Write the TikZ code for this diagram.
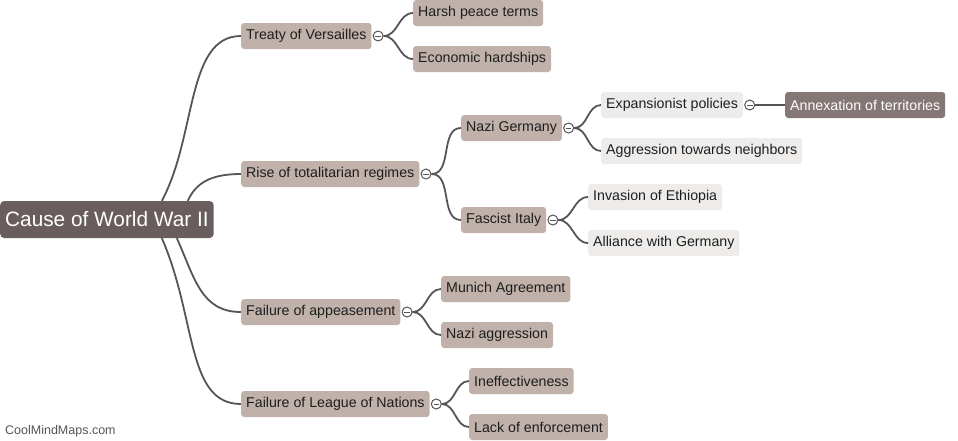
\documentclass[tikz,border=0pt]{standalone}
\usepackage{fontspec}
\setmainfont{Liberation Sans}
\usetikzlibrary{positioning, backgrounds}
\definecolor{croot}{HTML}{6A5D5D}
\definecolor{ctopic}{HTML}{C0B1AB}
\definecolor{cleaf}{HTML}{EEECEA}
\definecolor{cdark}{HTML}{857775}
\definecolor{clink}{HTML}{555555}
\definecolor{ctext}{HTML}{1E1E1E}
\tikzset{
  every picture/.style={x=1pt, y=-1pt},
  box/.style={fill=#1, rounded corners=3pt, anchor=west, inner xsep=5pt, inner ysep=0pt, minimum height=26pt, text=ctext, font=\fontsize{14.2}{16}\selectfont},
  box/.default=ctopic,
  rootbox/.style={box=croot, rounded corners=4pt, minimum height=37pt, text=white, font=\fontsize{20.8}{24}\selectfont},
  link/.style={draw=clink, line width=1.8pt},
  toggle/.style={circle, draw=clink, fill=white, line width=1pt, inner sep=0pt, minimum size=10pt,
    path picture={\draw[clink, line width=1pt] ([xshift=-2.8pt]path picture bounding box.center) -- ([xshift=2.8pt]path picture bounding box.center);}},
}

\begin{document}
\begin{tikzpicture}
  \useasboundingbox (0,0) rectangle (958,440);
  % central topic
  \node[rootbox] (root) at (0,219.5) {Cause of World War II};
  % main branches
  \node[box] (treaty) at (241,36) {Treaty of Versailles};
  \node[box] (harsh) at (413,13) {Harsh peace terms};
  \node[box] (econ) at (413,59) {Economic hardships};
  \node[box] (rise) at (241,174) {Rise of totalitarian regimes};
  \node[box] (nazi) at (461,128) {Nazi Germany};
  \node[box=cleaf] (expan) at (601,105) {Expansionist policies};
  \node[box=cdark, text=white] (annex) at (785,105) {Annexation of territories};
  \node[box=cleaf] (aggr) at (601,151) {Aggression towards neighbors};
  \node[box] (italy) at (461,220) {Fascist Italy};
  \node[box=cleaf] (ethiopia) at (588,197) {Invasion of Ethiopia};
  \node[box=cleaf] (alliance) at (588,243) {Alliance with Germany};
  \node[box] (appease) at (241,312) {Failure of appeasement};
  \node[box] (munich) at (441,289) {Munich Agreement};
  \node[box] (nagg) at (441,335) {Nazi aggression};
  \node[box] (league) at (241,404) {Failure of League of Nations};
  \node[box] (ineff) at (469,381) {Ineffectiveness};
  \node[box] (lack) at (469,427) {Lack of enforcement};
  % collapse toggles
  \foreach \n in {treaty, rise, nazi, expan, italy, appease, league}
    \node[toggle, right=1pt of \n] (\n-t) {};
  \foreach \a/\b in {treaty/harsh, treaty/econ, rise/nazi, rise/italy, nazi/expan, nazi/aggr, expan/annex,
                     italy/ethiopia, italy/alliance, appease/munich, appease/nagg, league/ineff, league/lack}
    \draw[link] (\a-t.east) to[out=0, in=180] (\b.west);
  % links from the centre
  \begin{scope}[on background layer]
    \draw[link] ([xshift=-52pt]root.north east) .. controls +(35,-65) and +(-55,0) .. (treaty.west);
    \draw[link] ([xshift=-26pt]root.north east) .. controls +(8,-18) and +(-30,0) .. (rise.west);
    \draw[link] ([xshift=-37pt]root.south east) .. controls +(18,40) and +(-40,0) .. (appease.west);
    \draw[link] ([xshift=-52pt]root.south east) .. controls +(35,80) and +(-55,0) .. (league.west);
  \end{scope}
  \node[anchor=west, inner sep=0pt, text=clink, font=\fontsize{12.5}{14}\selectfont] (brand) at (5,431) {CoolMindMaps.com};
\end{tikzpicture}
\end{document}
